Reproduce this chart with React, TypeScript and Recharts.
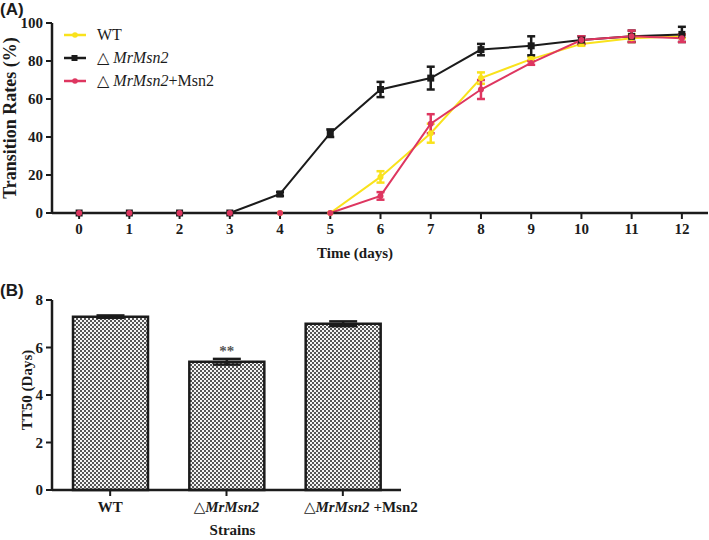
import React from 'react';
import {
  LineChart,
  Line,
  BarChart,
  Bar,
  XAxis,
  YAxis,
  ErrorBar,
  LabelList,
} from 'recharts';

const days = [0, 1, 2, 3, 4, 5, 6, 7, 8, 9, 10, 11, 12];
const wtRate = [0, 0, 0, 0, 0, 0, 19, 42, 71, 81, 89, 92, 93];
const wtRateErr = [0, 0, 0, 0, 0, 0, 3, 5, 3, 1, 1, 2, 1];
const koRate = [0, 0, 0, 0, 10, 42, 65, 71, 86, 88, 91, 93, 94];
const koRateErr = [0, 0, 0, 0, 1, 2, 4, 6, 3, 5, 2, 3, 4];
const compRate = [0, 0, 0, 0, 0, 0, 9, 47, 65, 79, 91, 93, 92];
const compRateErr = [0, 0, 0, 0, 0, 0, 2, 5, 5, 1, 2, 3, 2];

const rateTicks = [0, 20, 40, 60, 80, 100];
const tt50Ticks = [0, 2, 4, 6, 8];

const strains = ['WT', 'KO', 'COMP'];
const tt50 = [7.3, 5.4, 7.0];
const tt50Err = [0.05, 0.12, 0.1];
const tt50Sig = ['', '**', ''];

const YELLOW = '#f9e21c';
const BLACK = '#1b1b1b';
const RED = '#de3660';
const FONT = '"Liberation Serif", "DejaVu Serif", serif';

const lineData = days.map((d, i) => ({
  day: d,
  wt: wtRate[i],
  wtErr: wtRateErr[i],
  ko: koRate[i],
  koErr: koRateErr[i],
  comp: compRate[i],
  compErr: compRateErr[i],
}));

const barData = strains.map((s, i) => ({
  strain: s,
  value: tt50[i],
  err: tt50Err[i],
  sig: tt50Sig[i],
}));

const axisTick = { fill: BLACK, fontFamily: FONT, fontWeight: 700, fontSize: 15 };

const StrainName = ({ code }: { code: string }) => {
  if (code === 'WT') return <tspan>WT</tspan>;
  return (
    <>
      <tspan fontWeight={400}>△</tspan>
      <tspan fontStyle="italic">MrMsn2</tspan>
      {code === 'COMP' && <tspan> +Msn2</tspan>}
    </>
  );
};

const StrainTick = (props: any) => {
  const { x, y, payload } = props;
  // the last label sits a bit right of its tick in the original
  const shift = payload.value === 'COMP' ? 18 : 0;
  return (
    <text
      x={x + shift}
      y={y + 14}
      textAnchor="middle"
      fontFamily={FONT}
      fontWeight={700}
      fontSize={15}
      fill={BLACK}
    >
      <StrainName code={payload.value} />
    </text>
  );
};

const Dot = (props: any) => {
  const { cx, cy, stroke, shape } = props;
  if (cx == null || cy == null) return null;
  if (shape === 'square') {
    return <rect x={cx - 3.5} y={cy - 3.5} width={7} height={7} fill={stroke} />;
  }
  return <circle cx={cx} cy={cy} r={3} fill={stroke} />;
};

const legendItems = [
  { label: 'WT', color: YELLOW, shape: 'circle', italic: '', rest: '' },
  { label: '△ ', color: BLACK, shape: 'square', italic: 'MrMsn2', rest: '' },
  { label: '△ ', color: RED, shape: 'circle', italic: 'MrMsn2', rest: '+Msn2' },
];

// legend drawn outside the chart so it doesn't eat plot space
const LegendBox = () => (
  <svg width={220} height={70}>
    {legendItems.map((it, i) => {
      const y = 10 + i * 23;
      return (
        <g key={i}>
          <line x1={2} x2={24} y1={y} y2={y} stroke={it.color} strokeWidth={2.5} />
          {it.shape === 'square' ? (
            <rect x={9.5} y={y - 3} width={6} height={6} fill={it.color} />
          ) : (
            <circle cx={13} cy={y} r={2.8} fill={it.color} />
          )}
          <text x={35} y={y + 5} fontFamily={FONT} fontSize={16} fill={BLACK}>
            {it.label}
            {it.italic && <tspan fontStyle="italic">{it.italic}</tspan>}
            {it.rest}
          </text>
        </g>
      );
    })}
  </svg>
);

const rotatedLabel = (text: string, x: number, size: number, dy = 0) => (props: any) => {
  const vb = props.viewBox;
  const cy = vb.y + vb.height / 2 + dy;
  return (
    <text
      x={x}
      y={cy}
      transform={`rotate(-90, ${x}, ${cy})`}
      textAnchor="middle"
      dominantBaseline="central"
      fontFamily={FONT}
      fontWeight={700}
      fontSize={size}
      fill={BLACK}
    >
      {text}
    </text>
  );
};

const bottomLabel = (text: string, dy: number, dx = 0) => (props: any) => {
  const vb = props.viewBox;
  return (
    <text
      x={vb.x + vb.width / 2 + dx}
      y={vb.y + dy}
      textAnchor="middle"
      fontFamily={FONT}
      fontWeight={700}
      fontSize={15}
      fill={BLACK}
    >
      {text}
    </text>
  );
};

const panelTitle: React.CSSProperties = {
  position: 'absolute',
  left: 0,
  fontFamily: '"Liberation Sans", Arial, sans-serif',
  fontWeight: 700,
  fontSize: 17,
  color: BLACK,
};

export default function App() {
  return (
    <div style={{ position: 'absolute', left: 0, top: 0, width: 709, height: 540, background: '#fff' }}>
      <div style={{ position: 'absolute', left: 0, top: 0 }}>
        <LineChart
          width={709}
          height={270}
          data={lineData}
          margin={{ top: 23, right: 1, left: 0, bottom: 0 }}
        >
          <XAxis
            dataKey="day"
            type="number"
            domain={[-0.54, 12.52]}
            ticks={days}
            allowDataOverflow
            tick={axisTick}
            tickSize={6}
            tickMargin={4}
            axisLine={{ stroke: BLACK, strokeWidth: 2.5 }}
            tickLine={{ stroke: BLACK, strokeWidth: 2 }}
            height={57}
            label={{ content: bottomLabel('Time (days)', 45, -25) }}
          />
          <YAxis
            domain={[0, 100]}
            ticks={rateTicks}
            tick={axisTick}
            tickSize={6}
            tickMargin={3}
            axisLine={{ stroke: BLACK, strokeWidth: 2.5 }}
            tickLine={{ stroke: BLACK, strokeWidth: 2 }}
            width={52}
            label={{ content: rotatedLabel('Transition Rates (%)', 10, 18) }}
          />
          <Line
            dataKey="wt"
            stroke={YELLOW}
            strokeWidth={2}
            dot={<Dot shape="circle" />}
            activeDot={false}
            isAnimationActive={false}
          >
            <ErrorBar dataKey="wtErr" width={4} stroke={YELLOW} strokeWidth={2.5} direction="y" />
          </Line>
          <Line
            dataKey="ko"
            stroke={BLACK}
            strokeWidth={2}
            dot={<Dot shape="square" />}
            activeDot={false}
            isAnimationActive={false}
          >
            <ErrorBar dataKey="koErr" width={4} stroke={BLACK} strokeWidth={2.5} direction="y" />
          </Line>
          <Line
            dataKey="comp"
            stroke={RED}
            strokeWidth={2}
            dot={<Dot shape="circle" />}
            activeDot={false}
            isAnimationActive={false}
          >
            <ErrorBar dataKey="compErr" width={4} stroke={RED} strokeWidth={2.5} direction="y" />
          </Line>
        </LineChart>
      </div>

      <div style={{ position: 'absolute', left: 62, top: 25 }}>
        <LegendBox />
      </div>

      <div style={{ position: 'absolute', left: 0, top: 270 }}>
        <BarChart
          width={460}
          height={270}
          data={barData}
          margin={{ top: 30, right: 59, left: 0, bottom: 0 }}
        >
          <defs>
            <pattern id="checker" width={4} height={4} patternUnits="userSpaceOnUse">
              <rect width={4} height={4} fill="#f4f4f4" />
              <rect width={2} height={2} fill="#555" />
              <rect x={2} y={2} width={2} height={2} fill="#555" />
            </pattern>
          </defs>
          <XAxis
            dataKey="strain"
            tick={<StrainTick />}
            tickSize={6}
            axisLine={{ stroke: BLACK, strokeWidth: 2.5 }}
            tickLine={{ stroke: BLACK, strokeWidth: 2 }}
            height={50}
            label={{ content: bottomLabel('Strains', 45, 6) }}
          />
          <YAxis
            domain={[0, 8]}
            ticks={tt50Ticks}
            tick={axisTick}
            tickSize={6}
            tickMargin={3}
            axisLine={{ stroke: BLACK, strokeWidth: 2.5 }}
            tickLine={{ stroke: BLACK, strokeWidth: 2 }}
            width={52}
            label={{ content: rotatedLabel('TT50 (Days)', 27, 15, -5) }}
          />
          <Bar
            dataKey="value"
            barSize={75}
            fill="url(#checker)"
            stroke={BLACK}
            strokeWidth={2.5}
            isAnimationActive={false}
          >
            <ErrorBar dataKey="err" width={14} stroke={BLACK} strokeWidth={2.5} direction="y" />
            <LabelList
              dataKey="sig"
              position="top"
              offset={6}
              fill="#555"
              fontFamily={FONT}
              fontWeight={700}
              fontSize={15}
            />
          </Bar>
        </BarChart>
      </div>

      <div style={{ ...panelTitle, top: 0 }}>(A)</div>
      <div style={{ ...panelTitle, top: 281 }}>(B)</div>
    </div>
  );
}
